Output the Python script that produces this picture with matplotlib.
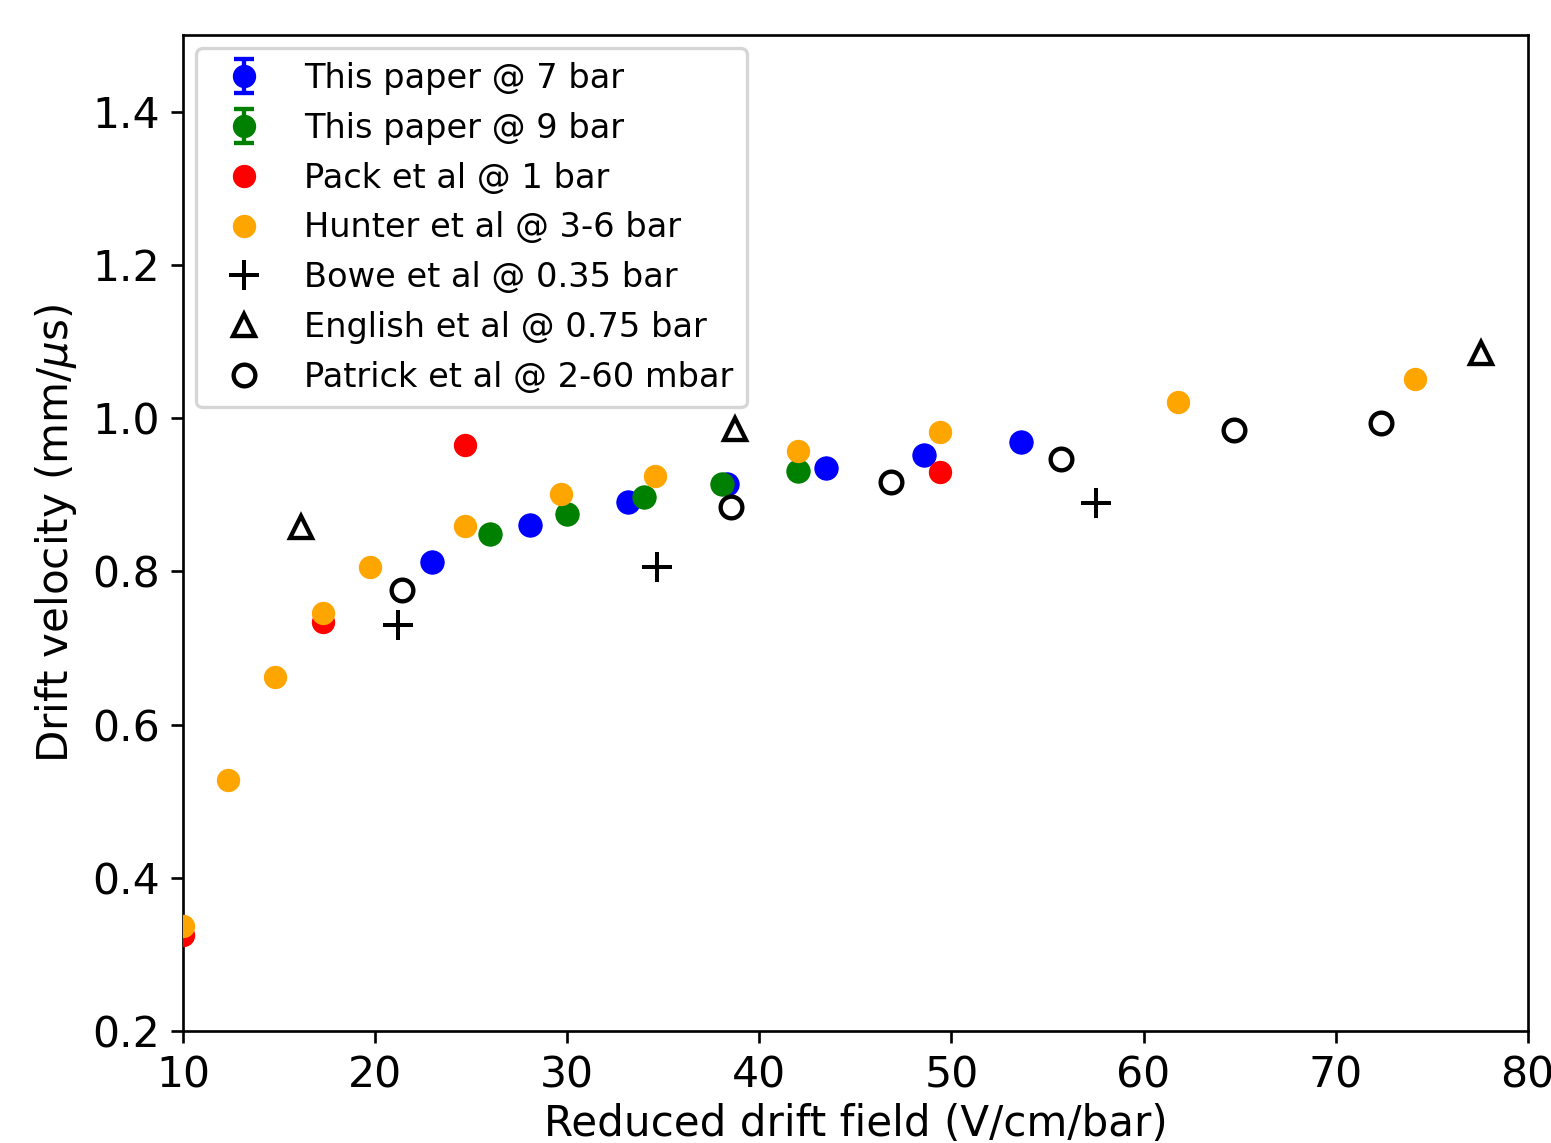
import matplotlib
matplotlib.use("Agg")
import matplotlib.pyplot as plt

# This paper @ 7 bar
x7 = [22.96, 28.06, 33.16, 38.31, 43.47, 48.57, 53.61]
y7 = [0.812, 0.861, 0.891, 0.914, 0.935, 0.952, 0.969]
e7 = [0.005, 0.005, 0.005, 0.005, 0.005, 0.005, 0.005]

# This paper @ 9 bar
x9 = [25.98, 29.99, 33.99, 38.05, 42.0]
y9 = [0.849, 0.875, 0.897, 0.914, 0.931]
e9 = [0.005, 0.005, 0.005, 0.005, 0.005]

# Pack et al @ 1 bar
x_pack = [10.0, 17.29, 24.68, 49.4]
y_pack = [0.325, 0.734, 0.965, 0.929]

# Hunter et al @ 3-6 bar
x_hunter = [10.0, 12.34, 14.79, 17.29, 19.73, 24.68, 29.67, 34.57, 42.0, 49.4, 61.78, 74.12]
y_hunter = [0.337, 0.528, 0.662, 0.745, 0.806, 0.859, 0.901, 0.925, 0.957, 0.982, 1.021, 1.051]

# Bowe et al @ 0.35 bar
x_bowe = [21.19, 34.67, 57.52]
y_bowe = [0.730, 0.806, 0.889]

# English et al @ 0.75 bar
x_english = [16.14, 38.73, 77.55]
y_english = [0.858, 0.986, 1.085]

# Patrick et al @ 2-60 mbar
x_patrick = [21.40, 38.52, 46.85, 55.70, 64.70, 72.35]
y_patrick = [0.776, 0.884, 0.916, 0.947, 0.985, 0.993]

plt.rcParams['font.family'] = ['DejaVu Sans']
plt.rcParams['font.size'] = 12.6

fig = plt.figure(figsize=(1551/240, 1143/240), dpi=240)
ax = fig.add_axes([0.118, 0.098, 0.867, 0.8714])

h7 = ax.errorbar(x7, y7, yerr=e7, fmt='o', color='blue', capsize=3, elinewidth=1.3,
                 capthick=1.3, markersize=6, label='This paper @ 7 bar', zorder=2)
ax.plot(x7, y7, 'o', color='blue', markersize=6.3, linestyle='none', zorder=2.5)
h9 = ax.errorbar(x9, y9, yerr=e9, fmt='o', color='green', capsize=3, elinewidth=1.3,
                 capthick=1.3, markersize=6, label='This paper @ 9 bar', zorder=2)
ax.plot(x9, y9, 'o', color='green', markersize=6.3, linestyle='none', zorder=2.5)
hp, = ax.plot(x_pack, y_pack, 'o', color='red', markersize=6, linestyle='none',
              label='Pack et al @ 1 bar', zorder=3)
hh, = ax.plot(x_hunter, y_hunter, 'o', color='orange', markersize=6, linestyle='none',
              label='Hunter et al @ 3-6 bar', zorder=3)
hb, = ax.plot(x_bowe, y_bowe, '+', color='black', markersize=9, markeredgewidth=1.2,
              linestyle='none', label='Bowe et al @ 0.35 bar', zorder=3)
he, = ax.plot(x_english, y_english, '^', color='black', markerfacecolor='none',
              markersize=6.5, markeredgewidth=1.3, linestyle='none',
              label='English et al @ 0.75 bar', zorder=3)
hpa, = ax.plot(x_patrick, y_patrick, 'o', color='black', markerfacecolor='none',
               markersize=6.5, markeredgewidth=1.3, linestyle='none',
               label='Patrick et al @ 2-60 mbar', zorder=3)

ax.set_xlim(10, 80)
ax.set_ylim(0.2, 1.5)
ax.set_xticks([10, 20, 30, 40, 50, 60, 70, 80])
ax.set_yticks([0.2, 0.4, 0.6, 0.8, 1.0, 1.2, 1.4])
ax.tick_params(labelsize=12.8)
ax.set_xlabel('Reduced drift field (V/cm/bar)', labelpad=2)
ax.set_ylabel(r'Drift velocity (mm/$\mu$s)')
handles = [h7, h9, hp, hh, hb, he, hpa]
leg = ax.legend(handles=handles, labels=[h.get_label() for h in handles],
                loc='upper left', fontsize=10.1, borderaxespad=0.4)
leg.set_zorder(5)

fig.savefig('out.png', dpi=240)
